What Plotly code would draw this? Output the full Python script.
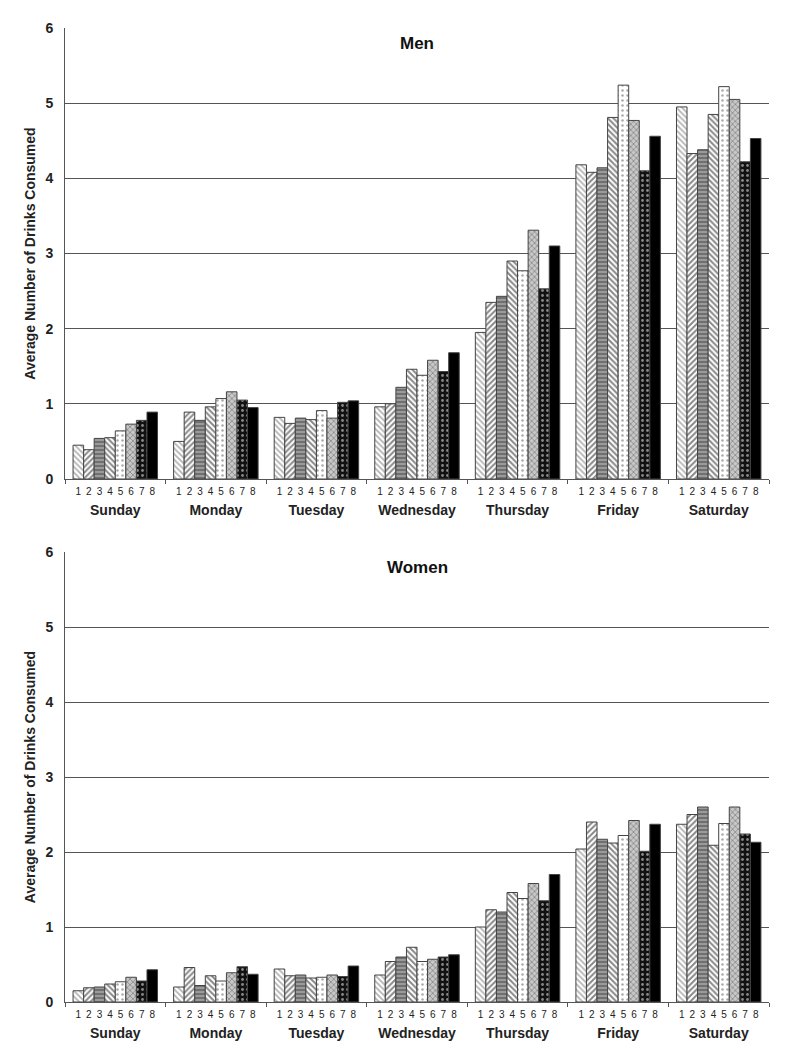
import plotly.graph_objects as go
from plotly.subplots import make_subplots

days = ["Sunday", "Monday", "Tuesday", "Wednesday", "Thursday", "Friday", "Saturday"]
series_labels = ["1", "2", "3", "4", "5", "6", "7", "8"]

# men[series][day]
men_1 = [0.45, 0.50, 0.82, 0.96, 1.95, 4.18, 4.95]
men_2 = [0.39, 0.89, 0.74, 1.00, 2.35, 4.08, 4.33]
men_3 = [0.54, 0.78, 0.81, 1.22, 2.43, 4.14, 4.38]
men_4 = [0.55, 0.96, 0.79, 1.46, 2.90, 4.81, 4.85]
men_5 = [0.64, 1.07, 0.91, 1.38, 2.77, 5.24, 5.22]
men_6 = [0.73, 1.16, 0.81, 1.58, 3.31, 4.77, 5.05]
men_7 = [0.78, 1.05, 1.02, 1.43, 2.53, 4.10, 4.22]
men_8 = [0.89, 0.95, 1.04, 1.68, 3.10, 4.56, 4.53]

women_1 = [0.15, 0.20, 0.44, 0.36, 1.00, 2.04, 2.37]
women_2 = [0.19, 0.46, 0.35, 0.54, 1.23, 2.40, 2.50]
women_3 = [0.20, 0.22, 0.36, 0.60, 1.20, 2.17, 2.60]
women_4 = [0.24, 0.35, 0.32, 0.73, 1.46, 2.12, 2.09]
women_5 = [0.27, 0.28, 0.33, 0.54, 1.38, 2.22, 2.38]
women_6 = [0.33, 0.39, 0.36, 0.57, 1.58, 2.42, 2.60]
women_7 = [0.28, 0.47, 0.34, 0.60, 1.35, 2.01, 2.24]
women_8 = [0.43, 0.37, 0.48, 0.63, 1.70, 2.37, 2.13]

men = [men_1, men_2, men_3, men_4, men_5, men_6, men_7, men_8]
women = [women_1, women_2, women_3, women_4, women_5, women_6, women_7, women_8]

patterns = [
    dict(shape="\\", fgcolor="#666666", bgcolor="#ffffff", size=4, solidity=0.45),
    dict(shape="/", fgcolor="#111111", bgcolor="#ffffff", size=4, solidity=0.5),
    dict(shape="-", fgcolor="#222222", bgcolor="#9a9a9a", size=4, solidity=0.35),
    dict(shape="\\", fgcolor="#111111", bgcolor="#ffffff", size=4, solidity=0.5),
    dict(shape=".", fgcolor="#555555", bgcolor="#ffffff", size=5, solidity=0.2),
    dict(shape="x", fgcolor="#555555", bgcolor="#c8c8c8", size=4, solidity=0.4),
    dict(shape=".", fgcolor="#ffffff", bgcolor="#111111", size=5, solidity=0.25),
    dict(shape="", fgcolor="#000000", bgcolor="#000000", size=4, solidity=0.3),
]
base_colors = ["#ffffff", "#ffffff", "#9a9a9a", "#ffffff", "#ffffff", "#c8c8c8", "#111111", "#000000"]

FONT = "Liberation Sans, Arial, sans-serif"
BARGAP = 0.16

fig = make_subplots(rows=2, cols=1, vertical_spacing=0.075)

for row, data in ((1, men), (2, women)):
    for j, vals in enumerate(data):
        fig.add_trace(
            go.Bar(
                x=days, y=vals, name=series_labels[j], showlegend=False,
                marker=dict(color=base_colors[j], pattern=patterns[j],
                            line=dict(color="#444444", width=1)),
            ),
            row=row, col=1,
        )

# page has an 8px body margin; figure sized to fit the 803x1050 window
fig.update_layout(
    width=787, height=1034,
    margin=dict(l=57, r=26, t=20, b=40, autoexpand=False),
    plot_bgcolor="white", paper_bgcolor="white",
    barmode="group", bargap=BARGAP, bargroupgap=0,
    font=dict(family=FONT, color="#222222"),
)

top_dom = [(1002 - 479) / 974, 1.0]
bot_dom = [0.0, (1002 - 552) / 974]
fig.update_layout(
    yaxis=dict(domain=top_dom),
    yaxis2=dict(domain=bot_dom),
)

for ax in ("xaxis", "xaxis2"):
    fig.update_layout({ax: dict(
        type="category", range=[-0.5, 6.5], showgrid=False, automargin=False,
        showline=True, linecolor="#555555", linewidth=1,
        ticks="outside", tickson="boundaries", ticklen=4, tickcolor="#555555",
        tickfont=dict(size=14, family=FONT, weight="bold", color="#222222"),
        ticklabelstandoff=18,
    )})

for ax in ("yaxis", "yaxis2"):
    fig.update_layout({ax: dict(
        range=[0, 6], dtick=1, showgrid=True, gridcolor="#555555", gridwidth=1,
        showline=True, linecolor="#555555", linewidth=1, automargin=False,
        ticks="", zeroline=False,
        tickfont=dict(size=14, family=FONT, weight="bold", color="#222222"),
        ticklabelstandoff=8,
        title=dict(text="Average Number of Drinks Consumed",
                   font=dict(size=14, family=FONT, weight="bold", color="#222222"),
                   standoff=6),
    )})

# numeric overlay axes for the 1..8 labels under each bar
w = (1 - BARGAP) / 8
num_vals = []
num_text = []
for i in range(len(days)):
    for j in range(8):
        num_vals.append(i - (1 - BARGAP) / 2 + (j + 0.5) * w)
        num_text.append(series_labels[j])

for ax, base, yref in (("xaxis3", "x", "y"), ("xaxis4", "x2", "y2")):
    fig.update_layout({ax: dict(
        overlaying=base, anchor=yref, side="bottom", range=[-0.5, 6.5],
        tickmode="array", tickvals=num_vals, ticktext=num_text, automargin=False,
        showgrid=False, zeroline=False, showline=False, ticks="",
        tickfont=dict(size=10, family=FONT, color="#222222"),
        ticklabelstandoff=5,
    )})
# invisible traces so the overlay axes render
fig.add_trace(go.Scatter(x=[0], y=[None], xaxis="x3", yaxis="y", showlegend=False, hoverinfo="skip"))
fig.add_trace(go.Scatter(x=[0], y=[None], xaxis="x4", yaxis="y2", showlegend=False, hoverinfo="skip"))

fig.add_annotation(text="<b>Men</b>", x=0.5, xref="x domain", y=6 - 0.2, yref="y",
                   showarrow=False, font=dict(size=17, family=FONT, color="#111111"))
fig.add_annotation(text="<b>Women</b>", x=0.5, xref="x2 domain", y=6 - 0.2, yref="y2",
                   showarrow=False, font=dict(size=17, family=FONT, color="#111111"))

fig.write_html("out.html")
